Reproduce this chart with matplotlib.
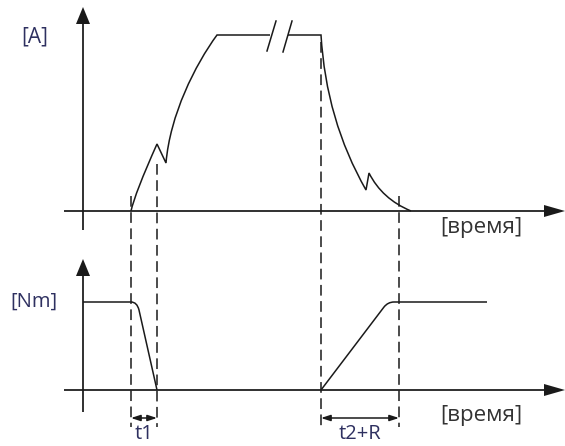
import matplotlib
matplotlib.use("Agg")
import matplotlib.pyplot as plt
from matplotlib.path import Path
from matplotlib.patches import PathPatch, Polygon

plt.rcParams['font.family'] = ['Open Sans', 'DejaVu Sans']

# Diagramm in Pixelkoordinaten (x nach rechts, y nach unten)
W, H = 565, 446
ink = "#1a1a1a"
navy = "#2e3060"
grey = "#333333"

# Achsen: [x0, x1, y]  bzw. [x, y_top, y_bottom]
x_axes_top = [64, 548, 211]
x_axes_bot = [64, 548, 390]
y_axis_x = 83
y_axis_top = [24, 230]
y_axis_bot = [276, 412]

# Strom [A]: Stützpunkte und Bezier-Kontrollpunkte
current_verts = [(131, 211), (135, 193), (157, 144),
                 (166, 163),
                 (170, 115), (195, 65), (217, 35),
                 (270, 35)]
current_codes = [Path.MOVETO, Path.CURVE3, Path.CURVE3,
                 Path.LINETO,
                 Path.CURVE4, Path.CURVE4, Path.CURVE4,
                 Path.LINETO]
current2_verts = [(288, 35), (321, 35),
                  (326, 120), (366, 190),
                  (369, 173),
                  (382, 199), (411, 211)]
current2_codes = [Path.MOVETO, Path.LINETO,
                  Path.CURVE3, Path.CURVE3,
                  Path.LINETO,
                  Path.CURVE3, Path.CURVE3]
break_marks = [[(267, 51), (276, 21)], [(283, 52), (292, 21)]]

# Moment [Nm]
torque1_verts = [(83, 302), (131, 302), (137, 302), (139, 310), (157, 390)]
torque1_codes = [Path.MOVETO, Path.LINETO, Path.CURVE3, Path.CURVE3, Path.LINETO]
torque2_verts = [(321, 390), (384, 307), (388, 302), (394, 302), (487, 302)]
torque2_codes = [Path.MOVETO, Path.LINETO, Path.CURVE3, Path.CURVE3, Path.LINETO]

# Hilfslinien (gestrichelt): x, y_start, y_end
dashed_x = [131, 157, 321, 399]
dashed_y0 = [196, 164, 42, 196]
dashed_y1 = [427, 427, 427, 427]

# Maßpfeile
dims = [(131, 157, "t1"), (321, 399, "t2+R")]
dim_y = 418

fig = plt.figure(figsize=(W / 100, H / 100), dpi=100)
ax = fig.add_axes([0, 0, 1, 1])
ax.set_xlim(0, W)
ax.set_ylim(H, 0)
ax.axis("off")

lw = 1.1

for x0, x1, y in (x_axes_top, x_axes_bot):
    ax.plot([x0, x1], [y, y], color=ink, lw=lw * 1.15, solid_capstyle="butt")
    ax.add_patch(Polygon([(x1 - 4, y - 6), (565, y), (x1 - 4, y + 6)],
                         closed=True, color=ink, lw=0))
for y0, y1 in (y_axis_top, y_axis_bot):
    ax.plot([y_axis_x, y_axis_x], [y0, y1], color=ink, lw=lw * 1.15,
            solid_capstyle="butt")
    ax.add_patch(Polygon([(y_axis_x - 7, y0), (y_axis_x, y0 - 17),
                          (y_axis_x + 7, y0)], closed=True, color=ink, lw=0))

for verts, codes in ((current_verts, current_codes),
                     (current2_verts, current2_codes),
                     (torque1_verts, torque1_codes),
                     (torque2_verts, torque2_codes)):
    ax.add_patch(PathPatch(Path(verts, codes), fill=False, edgecolor=ink,
                           lw=lw, joinstyle="miter"))

for (p, q) in break_marks:
    ax.plot([p[0], q[0]], [p[1], q[1]], color=ink, lw=lw)

for x, y0, y1 in zip(dashed_x, dashed_y0, dashed_y1):
    ax.plot([x, x], [y0, y1], color=ink, lw=lw, dashes=(7, 3.6))

for x0, x1, lab in dims:
    ax.annotate("", xy=(x0, dim_y), xytext=(x1, dim_y),
                arrowprops=dict(arrowstyle="<|-|>,head_length=0.55,head_width=0.18",
                                color=ink, lw=lw, shrinkA=0, shrinkB=0))
    ax.text((x0 + x1) / 2, 444, lab, color=navy, fontsize=14.5,
            ha="center", va="bottom")

ax.text(35, 37, "[A]", color=navy, fontsize=15, ha="center", va="center")
ax.text(34, 302, "[Nm]", color=navy, fontsize=14.5, ha="center", va="center")
ax.text(481, 228, "[время]", color=grey, fontsize=16, ha="center", va="center")
ax.text(481, 416, "[время]", color=grey, fontsize=16, ha="center", va="center")

fig.savefig("out.png", dpi=100)
